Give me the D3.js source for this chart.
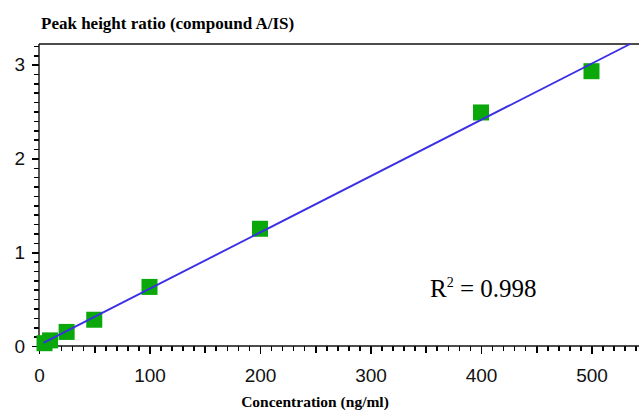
<!DOCTYPE html>
<html>
<head>
<meta charset="utf-8">
<script src="https://cdn.jsdelivr.net/npm/d3@7"></script>
<style>
  html, body { margin: 0; padding: 0; background: #fff; }
</style>
</head>
<body>
<svg id="chart" width="639" height="416"></svg>
<script>
// Calibration standards: concentration (ng/ml) vs peak height ratio
const concentrations = [5, 10, 25, 50, 100, 200, 400, 500];
const ratios = [0.03, 0.06, 0.15, 0.28, 0.63, 1.25, 2.49, 2.93];
const xTicks = [0, 100, 200, 300, 400, 500];
const yTicks = [0, 1, 2, 3];
const rSquaredLabel = "0.998";

const W = 639, H = 416;
const plotLeft = 39, plotTop = 44, plotBottom = 346;
const svg = d3.select("#chart");

const x = d3.scaleLinear().domain([0, 543]).range([plotLeft, W]);
const y = d3.scaleLinear().domain([0, 3.22]).range([plotBottom, plotTop]);

const sans = "'Liberation Sans', Arial, Helvetica, sans-serif";
const serif = "'Liberation Serif', 'Times New Roman', Times, serif";

// Least-squares calibration fit
const mx = d3.mean(concentrations), my = d3.mean(ratios);
const sxy = d3.sum(concentrations, (c, i) => (c - mx) * (ratios[i] - my));
const sxx = d3.sum(concentrations, c => (c - mx) * (c - mx));
const slope = sxy / sxx;
const intercept = my - slope * mx;

// Tick sets
const xMinor = d3.range(0, 541, 10).filter(d => d % 50 !== 0);
const xMid = d3.range(50, 541, 100);
const yMinor = d3.range(0, 33).map(i => i / 10).filter((d, i) => i % 10 !== 0);

const tickColor = "#000";
const tickWidth = 1.6;

function styleAxis(g) {
  g.select(".domain").remove();
  g.selectAll(".tick line")
    .attr("stroke", tickColor)
    .attr("stroke-width", tickWidth)
    .attr("shape-rendering", "crispEdges");
  return g;
}

// X axis tick layers
svg.append("g").attr("transform", `translate(0,${plotBottom})`)
  .call(d3.axisBottom(x).tickValues(xMinor).tickSize(5).tickFormat(""))
  .call(styleAxis);
svg.append("g").attr("transform", `translate(0,${plotBottom})`)
  .call(d3.axisBottom(x).tickValues(xMid).tickSize(7).tickFormat(""))
  .call(styleAxis);
svg.append("g").attr("transform", `translate(0,${plotBottom})`)
  .call(d3.axisBottom(x).tickValues(xTicks).tickSize(8).tickPadding(15))
  .call(styleAxis)
  .call(g => g.selectAll("text")
    .attr("font-family", sans).attr("font-size", 19).attr("fill", "#111"));

// Y axis tick layers
svg.append("g").attr("transform", `translate(${plotLeft},0)`)
  .call(d3.axisLeft(y).tickValues(yMinor).tickSize(5).tickFormat(""))
  .call(styleAxis);
svg.append("g").attr("transform", `translate(${plotLeft},0)`)
  .call(d3.axisLeft(y).tickValues(yTicks).tickSize(7).tickPadding(7).tickFormat(d3.format("d")))
  .call(styleAxis)
  .call(g => g.selectAll("text")
    .attr("font-family", sans).attr("font-size", 19).attr("fill", "#111"));

// Frame lines: top border, bottom axis, left axis
svg.append("line")
  .attr("x1", plotLeft).attr("x2", W).attr("y1", plotTop).attr("y2", plotTop)
  .attr("stroke", "#111").attr("stroke-width", 1.4);
svg.append("line")
  .attr("x1", plotLeft).attr("x2", W).attr("y1", plotBottom).attr("y2", plotBottom)
  .attr("stroke", "#111").attr("stroke-width", 1.4);
svg.append("line")
  .attr("x1", plotLeft).attr("x2", plotLeft).attr("y1", plotTop).attr("y2", plotBottom)
  .attr("stroke", "#111").attr("stroke-width", 1.4);

// Calibration points
const sq = 16;
svg.append("g").selectAll("rect").data(concentrations).join("rect")
  .attr("x", d => x(d) - sq / 2)
  .attr("y", (d, i) => y(ratios[i]) - sq / 2)
  .attr("width", sq).attr("height", sq)
  .attr("fill", "#0aa80a");

// Regression line, stopped where it meets the top border
const xEnd = (y.domain()[1] - intercept) / slope;
svg.append("path")
  .attr("d", d3.line().x(d => x(d)).y(d => y(intercept + slope * d))([4, xEnd]))
  .attr("fill", "none")
  .attr("stroke", "#3a2fe6").attr("stroke-width", 1.9);

// Titles
svg.append("text")
  .attr("x", 41).attr("y", 29)
  .attr("font-family", serif).attr("font-weight", "bold").attr("font-size", 17)
  .text("Peak height ratio (compound A/IS)");

svg.append("text")
  .attr("x", 315).attr("y", 407)
  .attr("text-anchor", "middle")
  .attr("font-family", serif).attr("font-weight", "bold").attr("font-size", 15.5)
  .text("Concentration (ng/ml)");

// Coefficient of determination
const r2 = svg.append("text")
  .attr("x", 430).attr("y", 297)
  .attr("font-family", serif).attr("font-size", 25);
r2.append("tspan").text("R");
r2.append("tspan").attr("dy", -10).attr("font-size", 14).text("2");
r2.append("tspan").attr("dy", 10).text(" = " + rSquaredLabel);
</script>
</body>
</html>
